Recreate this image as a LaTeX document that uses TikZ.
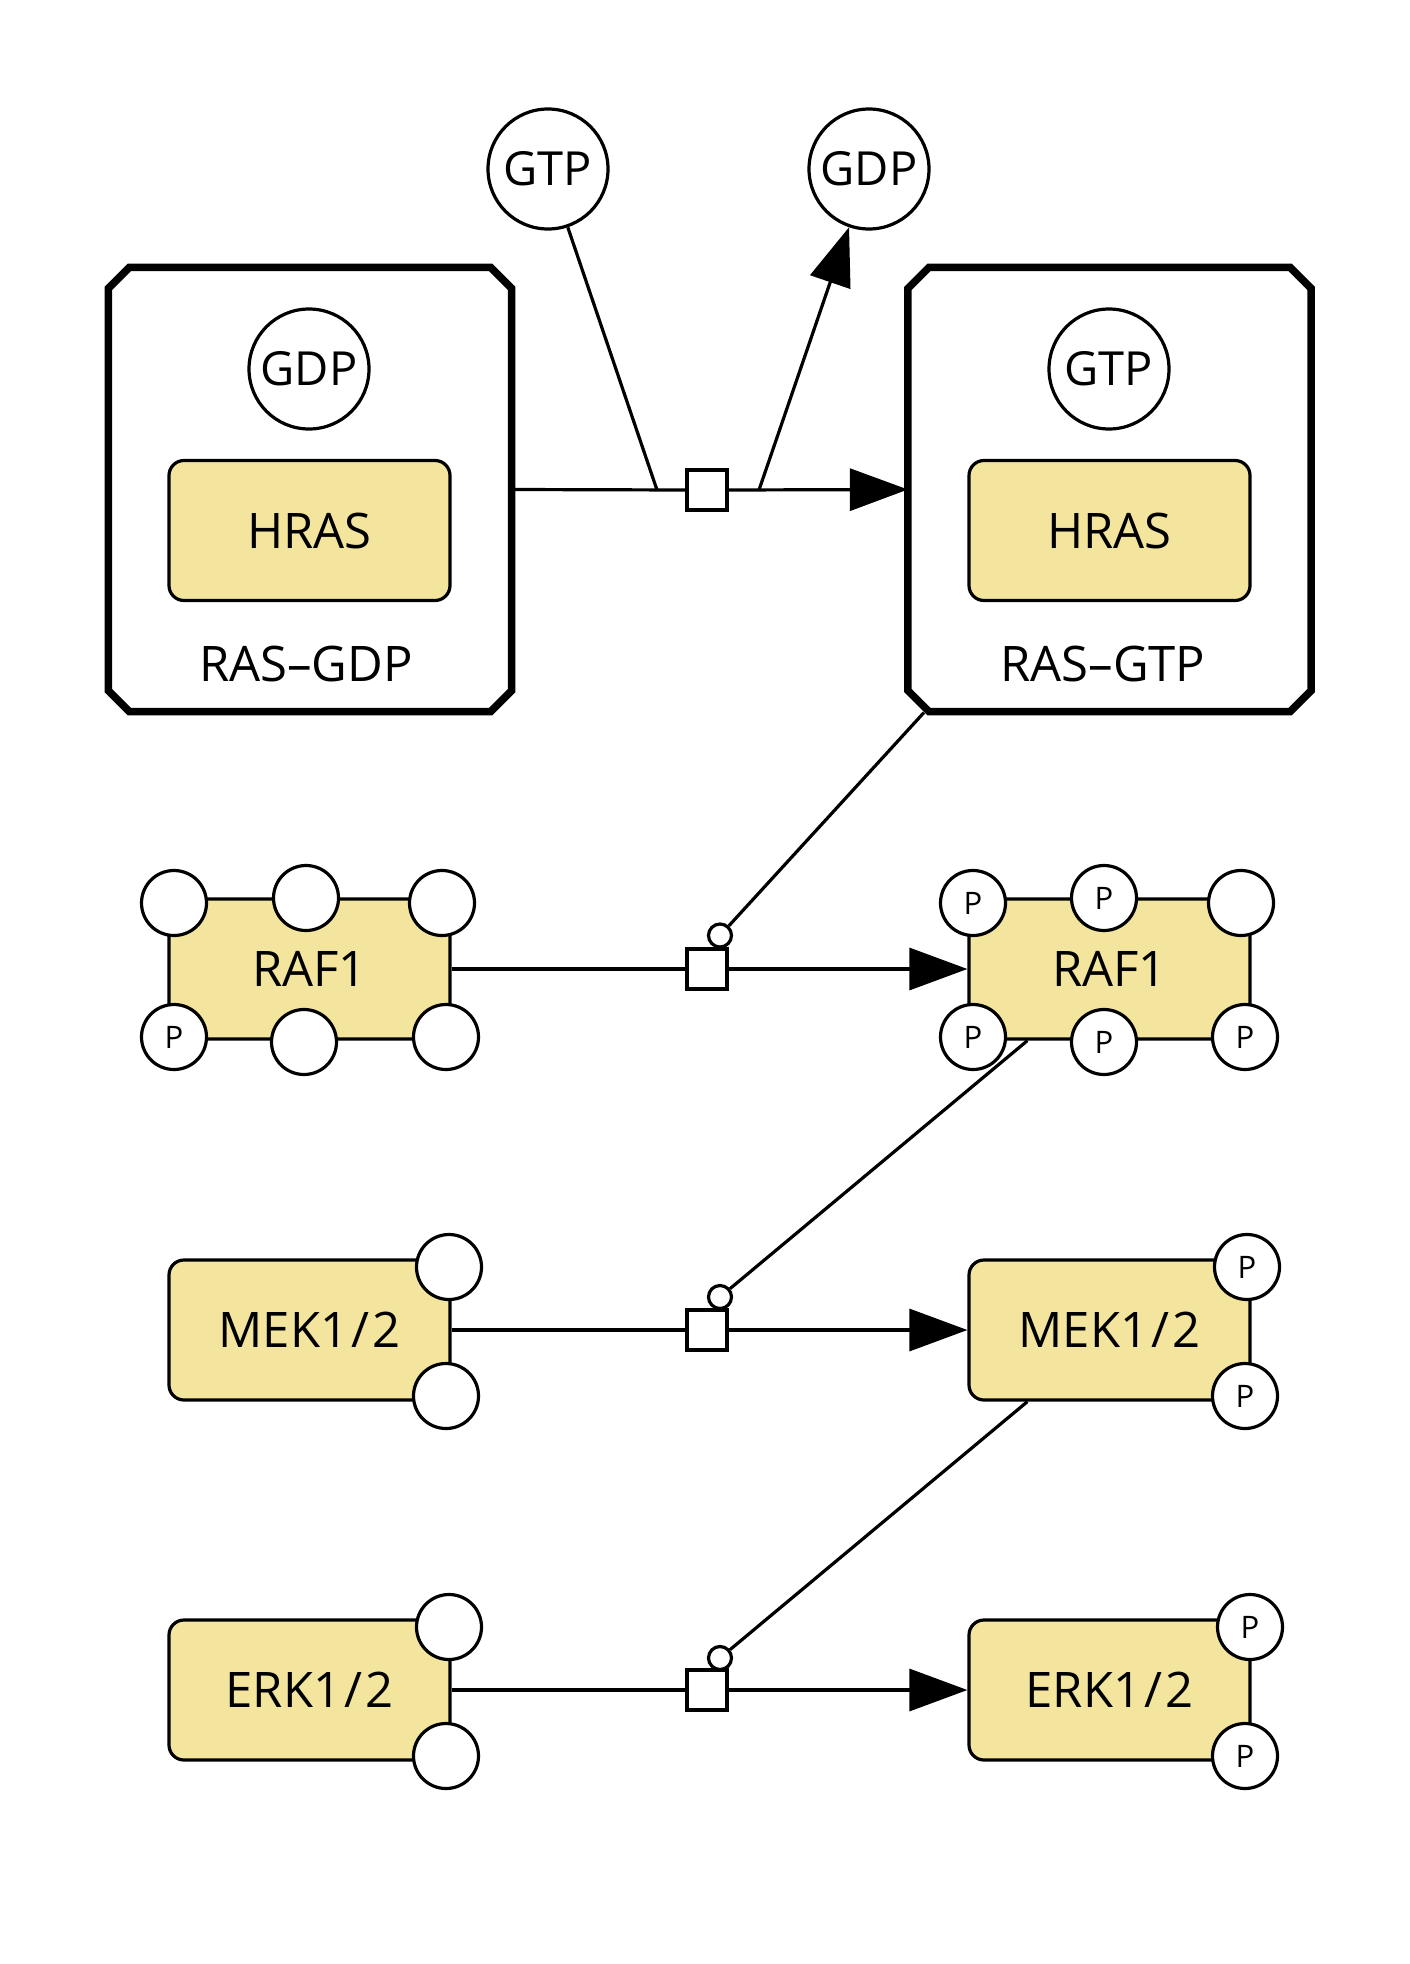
\documentclass[tikz,border=0pt]{standalone}
\usepackage{fontspec}
\setmainfont{Open Sans}
\usetikzlibrary{arrows.meta}
\definecolor{macfill}{RGB}{243,229,158}
\newcommand{\slsh}{\hspace{3pt}/\hspace{3pt}}
\begin{document}
\begin{tikzpicture}[x=1pt,y=-1pt,line width=3.2pt,
  macro/.style={draw,fill=macfill,rounded corners=15pt,minimum width=281pt,minimum height=140pt,inner sep=0pt,font=\fontsize{49}{56}\selectfont},
  cplxbox/.style={draw=none,minimum width=400pt,minimum height=441pt,inner sep=0pt},
  cplxline/.style={line width=7.5pt,line join=miter},
  smol/.style={draw,circle,fill=white,minimum size=120pt,inner sep=0pt,font=\fontsize{47}{54}\selectfont},
  sv/.style={draw,circle,fill=white,minimum size=65pt,inner sep=0pt,font=\fontsize{31}{36}\selectfont},
  procbox/.style={draw,fill=white,minimum size=40pt,inner sep=0pt},
  catc/.style={draw,circle,fill=white,minimum size=23pt,inner sep=0pt},
  lbl/.style={font=\fontsize{49}{56}\selectfont,inner sep=0pt},
  arr/.style={-{Triangle[length=58pt,width=42pt]}}
]
\useasboundingbox (0,0) rectangle (1410,1964);

% complexes
\node[cplxbox] (c1) at (310,489.5) {};
\node[cplxbox] (c2) at (1109.5,489.5) {};
\foreach \c in {c1,c2}{
  \draw[cplxline] ([xshift=21pt]\c.north west) -- ([xshift=-21pt]\c.north east) -- ([yshift=-21pt]\c.north east)
    -- ([yshift=21pt]\c.south east) -- ([xshift=-21pt]\c.south east) -- ([xshift=21pt]\c.south west)
    -- ([yshift=21pt]\c.south west) -- ([yshift=-21pt]\c.north west) -- cycle;
}
\node[smol] (gdpin) at (309,369) {GDP};
\node[smol] (gtpin) at (1109,369) {GTP};
\node[macro] (hras1) at (309.5,530.5) {HRAS};
\node[macro] (hras2) at (1109.5,530.5) {HRAS};
\node[lbl] (lab1) at (306,664) {RAS–GDP};
\node[lbl] (lab2) at (1103,664) {RAS–GTP};

% top reaction
\node[smol] (gtpt) at (548,169) {GTP};
\node[smol] (gdpt) at (869,169) {GDP};
\coordinate (gin) at (657,490);
\coordinate (gout) at (759,490);
\node[procbox] (p0) at (707,490) {};
\draw (c1.east) -- (p0.west);
\draw[arr] (p0.east) -- (c2.west);
\draw (gtpt) -- (gin);
\draw[arr] (gout) -- (gdpt);

% catalysis anchors
\coordinate (c2cat) at ([xshift=16pt,yshift=-1pt]c2.south west);

% rows
\node[procbox] (p1) at (707,969) {};
\node[procbox] (p2) at (707,1330) {};
\node[procbox] (p3) at (707,1690) {};
\node[catc] (k1) at (720,935.5) {};
\node[catc] (k2) at (720,1297) {};
\node[catc] (k3) at (720,1658) {};

\node[macro] (raf1l) at (309.5,969) {RAF1};
\node[macro] (raf1r) at (1109.5,969) {RAF1};
\node[macro] (mekl) at (309.5,1330) {MEK1\slsh 2};
\node[macro] (mekr) at (1109.5,1330) {MEK1\slsh 2};
\node[macro] (erkl) at (309.5,1690) {ERK1\slsh 2};
\node[macro] (erkr) at (1109.5,1690) {ERK1\slsh 2};

\coordinate (rafcat) at ([xshift=60pt]raf1r.south west);
\coordinate (mekcat) at ([xshift=60pt]mekr.south west);

\draw (c2cat) -- (k1);
\draw (rafcat) -- (k2);
\draw (mekcat) -- (k3);

\draw (raf1l.east) -- (p1.west);
\draw[arr] (p1.east) -- (raf1r.west);
\draw (mekl.east) -- (p2.west);
\draw[arr] (p2.east) -- (mekr.west);
\draw (erkl.east) -- (p3.west);
\draw[arr] (p3.east) -- (erkr.west);

% state variables
\node[sv] (s1) at (174,903) {};
\node[sv] (s2) at (306,898) {};
\node[sv] (s3) at (442,903) {};
\node[sv] (s4) at (174,1037) {P};
\node[sv] (s5) at (304,1042) {};
\node[sv] (s6) at (446,1037) {};
\node[sv] (t1) at (973,903) {P};
\node[sv] (t2) at (1104,898) {P};
\node[sv] (t3) at (1241,903) {};
\node[sv] (t4) at (973,1037) {P};
\node[sv] (t5) at (1104,1042) {P};
\node[sv] (t6) at (1245,1037) {P};
\node[sv] (m1) at (449,1267) {};
\node[sv] (m2) at (446,1396) {};
\node[sv] (m3) at (1247,1267) {P};
\node[sv] (m4) at (1245,1396) {P};
\node[sv] (e1) at (449,1627) {};
\node[sv] (e2) at (446,1756) {};
\node[sv] (e3) at (1250,1627) {P};
\node[sv] (e4) at (1245,1756) {P};
\end{tikzpicture}
\end{document}
